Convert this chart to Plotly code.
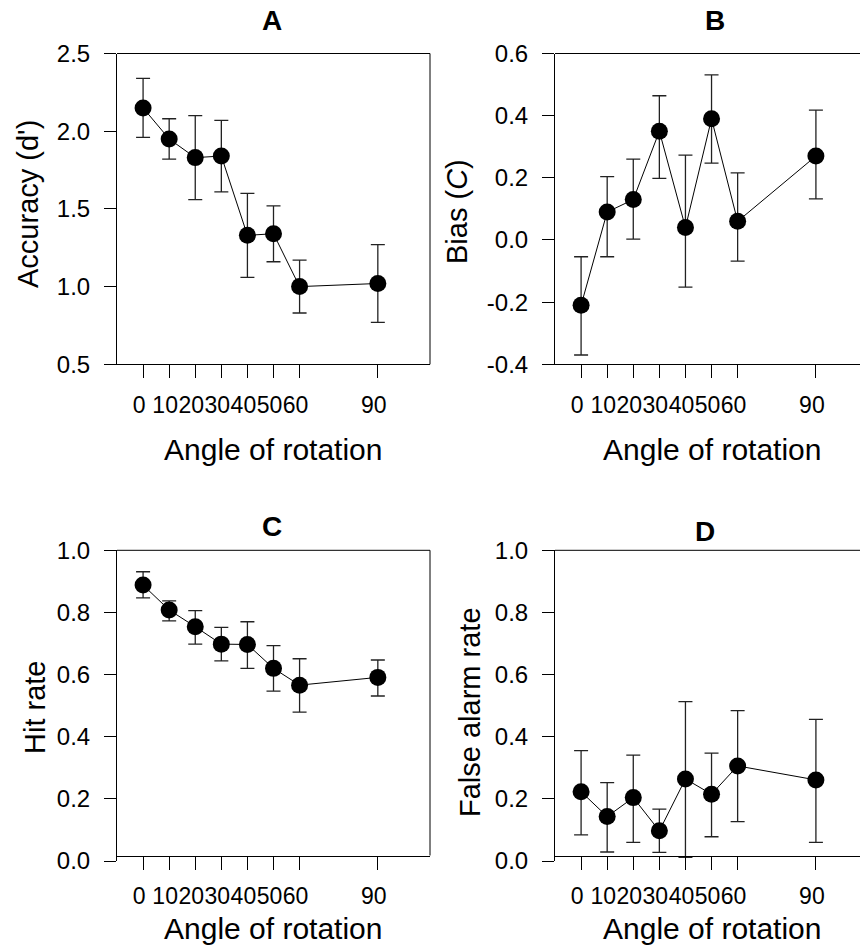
import plotly.graph_objects as go

# ---------------- data ----------------
angles = [0, 10, 20, 30, 40, 50, 60, 90]
x_tick_labels = ["0", "10", "20", "30", "40", "50", "60", "90"]

accuracy_mean = [2.15, 1.95, 1.83, 1.84, 1.33, 1.34, 1.00, 1.02]
accuracy_upper = [2.34, 2.08, 2.10, 2.07, 1.60, 1.52, 1.17, 1.27]
accuracy_lower = [1.96, 1.82, 1.56, 1.61, 1.06, 1.16, 0.83, 0.77]

bias_mean = [-0.21, 0.09, 0.13, 0.35, 0.04, 0.39, 0.06, 0.27]
bias_upper = [-0.054, 0.204, 0.260, 0.464, 0.273, 0.531, 0.216, 0.418]
bias_lower = [-0.370, -0.054, 0.003, 0.198, -0.152, 0.247, -0.068, 0.132]

hit_mean = [0.888, 0.808, 0.754, 0.698, 0.697, 0.620, 0.566, 0.591]
hit_upper = [0.931, 0.837, 0.806, 0.752, 0.770, 0.693, 0.651, 0.647]
hit_lower = [0.847, 0.773, 0.698, 0.644, 0.620, 0.547, 0.479, 0.531]

fa_mean = [0.223, 0.143, 0.204, 0.097, 0.264, 0.215, 0.306, 0.261]
fa_upper = [0.355, 0.252, 0.341, 0.167, 0.513, 0.347, 0.484, 0.456]
fa_lower = [0.084, 0.029, 0.060, 0.028, 0.012, 0.078, 0.127, 0.060]

acc_ticks = [0.5, 1.0, 1.5, 2.0, 2.5]
acc_tick_text = ["0.5", "1.0", "1.5", "2.0", "2.5"]
bias_ticks = [-0.4, -0.2, 0.0, 0.2, 0.4, 0.6]
bias_tick_text = ["-0.4", "-0.2", "0.0", "0.2", "0.4", "0.6"]
rate_ticks = [0.0, 0.2, 0.4, 0.6, 0.8, 1.0]
rate_tick_text = ["0.0", "0.2", "0.4", "0.6", "0.8", "1.0"]

# ---------------- layout geometry ----------------
W, H = 860, 947
FONT = "Liberation Sans, Arial, sans-serif"


def px(x):
    return x / W


def py(y):
    return 1 - y / H


left_dom = [px(117), px(430)]
right_dom = [px(555), 1.0]
top_dom = [py(364.3), py(53.5)]
bot_dom = [py(861), py(550.3)]
bot_xaxis_pos = py(855.5)

fig = go.Figure()


def add_panel(mean, upper, lower, xa, ya):
    fig.add_trace(go.Scatter(
        x=angles, y=mean, xaxis=xa, yaxis=ya,
        mode="lines+markers",
        line=dict(color="black", width=1),
        marker=dict(color="black", size=17),
        error_y=dict(type="data", symmetric=False,
                     array=[u - m for u, m in zip(upper, mean)],
                     arrayminus=[m - l for m, l in zip(mean, lower)],
                     color="#222222", thickness=1.3, width=7),
        showlegend=False, cliponaxis=False,
    ))


add_panel(accuracy_mean, accuracy_upper, accuracy_lower, "x", "y")
add_panel(bias_mean, bias_upper, bias_lower, "x2", "y2")
add_panel(hit_mean, hit_upper, hit_lower, "x3", "y3")
add_panel(fa_mean, fa_upper, fa_lower, "x4", "y4")

common_x = dict(tickvals=angles, ticktext=x_tick_labels, ticks="outside", ticklen=13,
                tickwidth=1, tickcolor="black", showline=True, linecolor="black",
                linewidth=1, showgrid=False, zeroline=False, tickangle=0,
                tickfont=dict(family=FONT, size=23, color="black"),
                ticklabelstandoff=7, ticklabelshift=-4, automargin=False)
common_y = dict(ticks="outside", ticklen=12, tickwidth=1, tickcolor="black",
                showline=True, linecolor="black", linewidth=1, showgrid=False,
                zeroline=False, tickfont=dict(family=FONT, size=24, color="black"),
                ticklabelstandoff=9, automargin=False)

fig.update_layout(
    template="none",
    width=W, height=H,
    margin=dict(l=0, r=0, t=0, b=0, pad=0),
    paper_bgcolor="white", plot_bgcolor="white",
    font=dict(family=FONT, color="black"),
    xaxis=dict(domain=left_dom, range=[-10, 110], anchor="y", **common_x),
    yaxis=dict(domain=top_dom, range=[0.5, 2.5], anchor="x",
               tickvals=acc_ticks, ticktext=acc_tick_text, **common_y),
    xaxis2=dict(domain=right_dom, range=[-10, 106.9], anchor="y2", **common_x),
    yaxis2=dict(domain=top_dom, range=[-0.4, 0.6], anchor="x2",
                tickvals=bias_ticks, ticktext=bias_tick_text, **common_y),
    xaxis3=dict(domain=left_dom, range=[-10, 110], anchor="free",
                position=bot_xaxis_pos, **common_x),
    yaxis3=dict(domain=bot_dom, range=[0, 1], anchor="x3",
                tickvals=rate_ticks, ticktext=rate_tick_text, **common_y),
    xaxis4=dict(domain=right_dom, range=[-10, 106.9], anchor="free",
                position=bot_xaxis_pos, **common_x),
    yaxis4=dict(domain=bot_dom, range=[0, 1], anchor="x4",
                tickvals=rate_ticks, ticktext=rate_tick_text, **common_y),
)

# frame lines (top and right borders)
line_style = dict(color="black", width=1)
shapes = [
    dict(type="line", xref="paper", yref="paper", x0=px(117), x1=px(430), y0=py(53.5), y1=py(53.5), line=line_style),
    dict(type="line", xref="paper", yref="paper", x0=px(430), x1=px(430), y0=py(53.5), y1=py(364.3), line=line_style),
    dict(type="line", xref="paper", yref="paper", x0=px(555), x1=1.0, y0=py(53.5), y1=py(53.5), line=line_style),
    dict(type="line", xref="paper", yref="paper", x0=px(117), x1=px(430), y0=py(550.3), y1=py(550.3), line=line_style),
    dict(type="line", xref="paper", yref="paper", x0=px(430), x1=px(430), y0=py(550.3), y1=py(855.5), line=line_style),
    dict(type="line", xref="paper", yref="paper", x0=px(555), x1=1.0, y0=py(550.3), y1=py(550.3), line=line_style),
]
fig.update_layout(shapes=shapes)


def ann(text, x, y, size, bold=False, angle=0):
    return dict(text=f"<b>{text}</b>" if bold else text, x=px(x), y=py(y),
                xref="paper", yref="paper", showarrow=False,
                xanchor="center", yanchor="middle", textangle=angle,
                font=dict(family=FONT, size=size, color="black"))


annotations = [
    ann("A", 272, 20, 28, bold=True),
    ann("B", 715, 20, 28, bold=True),
    ann("C", 272, 526, 28, bold=True),
    ann("D", 705, 531, 28, bold=True),
    ann("Angle of rotation", 273, 449, 30),
    ann("Angle of rotation", 712, 449, 30),
    ann("Angle of rotation", 273, 928, 30),
    ann("Angle of rotation", 712, 928, 30),
    ann("Accuracy (d')", 28, 204, 29, angle=-90),
    ann("Bias (<i>C</i>)", 457, 212, 29, angle=-90),
    ann("Hit rate", 35, 708, 29, angle=-90),
    ann("False alarm rate", 470, 712, 29, angle=-90),
]
fig.update_layout(annotations=annotations)

fig.write_html("out.html", config={"responsive": False, "displayModeBar": False},
               post_script="document.body.style.margin='0px';document.body.style.overflow='hidden';")
